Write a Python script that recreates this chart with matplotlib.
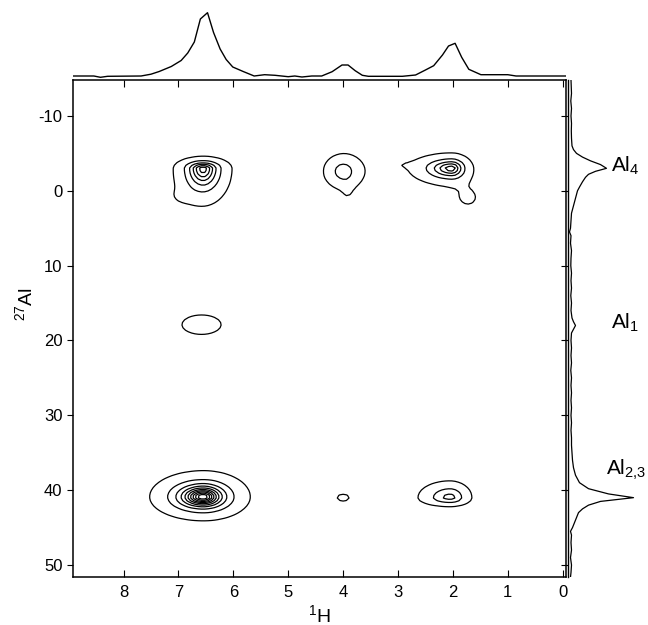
import numpy as np
import matplotlib
matplotlib.use("Agg")
from matplotlib import pyplot as plt

plt.rcParams["font.family"] = ["Liberation Sans", "DejaVu Sans"]
plt.rcParams["mathtext.fontset"] = "custom"
plt.rcParams["mathtext.rm"] = "Liberation Sans"
plt.rcParams["mathtext.it"] = "Liberation Sans"
plt.rcParams["axes.unicode_minus"] = False
plt.rcParams["font.size"] = 12

# 1H projection (top trace): shift (ppm) and intensity
top_ppm = [8.92, 8.54, 8.42, 8.29, 7.68, 7.50, 7.35, 7.13, 6.95, 6.83, 6.71, 6.60, 6.47,
           6.36, 6.24, 6.13, 6.01, 5.82, 5.62, 5.43, 5.24, 5.00, 4.88, 4.75, 4.57, 4.39,
           4.20, 4.02, 3.91, 3.78, 3.65, 3.54, 2.92, 2.68, 2.50, 2.35, 2.19, 2.08, 1.96,
           1.84, 1.71, 1.49, 1.00, 0.85, -0.10]
top_int = [0, 0, -1.3, -0.3, 0, 1.8, 4.5, 9.5, 15.5, 23, 34, 57, 63.3,
           43.5, 27, 16.5, 9, 4.5, 0, 1.3, 0.7, -0.7, 0, -1, 0, 0,
           4.3, 11, 11, 5.3, 0.7, -0.3, -0.3, 1, 6, 10.3, 21, 30, 32.7,
           18.7, 6.7, 1.3, 1.3, 0, 0]

# 27Al projection (right trace): shift (ppm) and intensity
right_ppm = [-14.8, -13, -12, -11, -10, -9, -8, -7, -6, -5.5, -5, -4.5, -4, -3.5, -3.0,
             -2.6, -2.2, -1.8, -1.2, -0.5, 0, 0.5, 1, 1.5, 2, 2.5, 3, 4, 5, 5.5, 6, 7, 8,
             9, 10, 11, 12, 13, 14, 15, 16, 17, 17.5, 18, 18.5, 19, 20, 21, 22, 23, 24,
             25, 26, 27, 28, 29, 30, 31, 32, 33, 34, 35, 36, 37, 38, 39, 39.8, 40.5, 41.0,
             41.5, 42, 42.5, 43, 44, 45, 45.5, 46, 47, 48, 49, 50, 51, 51.6]
right_int = [0.5, 1, 0.3, 1, 0.5, 1, 0.8, 1, 1.5, 3, 6, 12, 20, 30, 36,
             25, 18, 15, 12, 9, 7, 6, 5, 4, 3, 2, 1, 0.5, 0, -1, 0.5, 0, 1,
             0.5, 0.3, 1, 0.5, 1, 0.3, 1, 0.5, 1.5, 3, 5, 3, 1, 0.5, 1, 0.5, 1, 0.3,
             1, 0.5, 1, 0.5, 1, 0.5, 1, 0.5, 1, 1, 1.5, 2, 3, 5, 9, 18, 38, 63,
             30, 18, 12, 8, 5, 2, 0, 1, 0.5, 1, 0, 1, 0.5, 0]

# cross peaks: 1H shift, 27Al shift, height, half widths (left/right in 1H, up/down in 27Al)
peak_h = [6.55, 6.95, 4.00, 3.92, 2.02, 1.72, 2.80, 6.58, 6.55, 4.00, 2.05]
peak_al = [-3.0, 0.7, -2.6, -0.2, -3.0, 1.0, -3.4, 17.9, 40.9, 41.0, 41.0]
peak_amp = [6.5, 0.5, 2.3, 0.7, 5.5, 1.0, 0.8, 1.4, 11.0, 0.92, 3.3]
peak_wh_left = [0.22, 0.15, 0.26, 0.06, 0.33, 0.20, 0.07, 0.47, 0.30, 0.23, 0.36]
peak_wh_right = [0.21, 0.15, 0.26, 0.06, 0.17, 0.20, 0.07, 0.47, 0.26, 0.23, 0.25]
peak_wal_up = [0.65, 0.8, 1.7, 0.8, 0.9, 1.3, 0.15, 1.7, 1.07, 0.98, 1.4]
peak_wal_down = [2.0, 0.8, 1.7, 0.8, 1.0, 1.3, 0.15, 1.7, 0.98, 0.98, 0.75]

levels = [1, 2, 3, 4, 5, 6, 7, 8, 9, 10]

h_grid = np.arange(-0.2, 9.05, 0.06)
al_grid = np.arange(-16, 53, 0.35)
H, A = np.meshgrid(h_grid, al_grid)
Z = np.zeros_like(H)
for h0, a0, amp, wl, wr, wu, wd in zip(peak_h, peak_al, peak_amp, peak_wh_left,
                                      peak_wh_right, peak_wal_up, peak_wal_down):
    wh = np.where(H > h0, wl, wr)
    wa = np.where(A < a0, wu, wd)
    Z += amp / (1 + ((H - h0) / wh) ** 2 + ((A - a0) / wa) ** 2)

W, Hf = 648, 625
fig = plt.figure(figsize=(W / 100, Hf / 100), dpi=100)

xlim = (8.92, -0.06)
ylim = (51.6, -14.8)

ax = fig.add_axes([73 / W, 1 - 577 / Hf, 493 / W, 497 / Hf])
ax.contour(H, A, Z, levels=levels, colors="k", linewidths=0.9)
ax.set_xlim(xlim)
ax.set_ylim(ylim)
ax.set_xticks([8, 7, 6, 5, 4, 3, 2, 1, 0])
ax.set_yticks([-10, 0, 10, 20, 30, 40, 50])
ax.tick_params(axis="x", direction="in", top=True, length=5, width=0.8, pad=6, labelsize=12)
ax.tick_params(axis="y", direction="out", length=4, width=0.8, labelsize=12)
for s in ax.spines.values():
    s.set_linewidth(1.1)
ax.set_xlabel(r"$^1$H", fontsize=14, labelpad=3)
ax.set_ylabel(r"$^{27}$Al", fontsize=14)
ax.yaxis.set_label_coords(-0.075, 0.55)

# top projection
axt = fig.add_axes([73 / W, 1 - 78 / Hf, 493 / W, 74 / Hf])
axt.plot(top_ppm, top_int, color="k", lw=1.0)
axt.set_xlim(xlim)
axt.set_ylim(-2, 72)
axt.axis("off")

# right projection
axr = fig.add_axes([568 / W, 1 - 577 / Hf, 80 / W, 497 / Hf])
axr.plot(right_int, right_ppm, color="k", lw=0.9)
axr.set_xlim(-2.5, 77.5)
axr.set_ylim(ylim)
for side in ["top", "right", "bottom"]:
    axr.spines[side].set_visible(False)
axr.spines["left"].set_linewidth(1.0)
axr.set_xticks([])
axr.set_yticks([-10, 0, 10, 20, 30, 40, 50])
axr.tick_params(axis="y", direction="out", length=5, width=0.8, labelleft=False)
axr.patch.set_visible(False)

axr.text(40.5, -3.3, r"Al$_4$", fontsize=15, va="center", ha="left")
axr.text(40.5, 17.6, r"Al$_1$", fontsize=15, va="center", ha="left")
axr.text(35.5, 37.3, r"Al$_{2{,}3}$", fontsize=15, va="center", ha="left")

fig.savefig("out.png", dpi=100)
